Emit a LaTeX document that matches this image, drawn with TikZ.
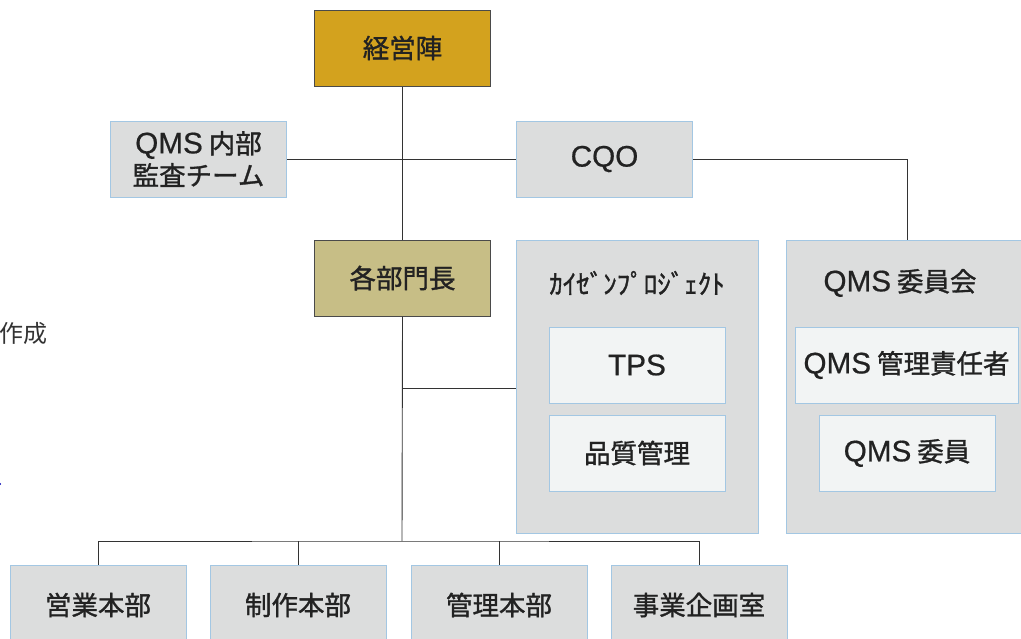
\documentclass[tikz,border=0pt]{standalone}
\usepackage{fontspec}
\newfontfamily\jp[FakeBold=1.2]{Noto Sans CJK JP}
\newfontfamily\jpl{Noto Sans CJK JP}
\newfontfamily\lat[FakeBold=0.6,Scale=1.12]{Liberation Sans}
\definecolor{gold}{HTML}{D3A21E}
\definecolor{khaki}{HTML}{C7BE86}
\definecolor{bgray}{HTML}{DCDDDD}
\definecolor{inner}{HTML}{F2F4F4}
\definecolor{bblue}{HTML}{A3C7E3}
\definecolor{dborder}{HTML}{4A4A4A}
\definecolor{lcol}{HTML}{333333}
\definecolor{tcol}{HTML}{222222}
\tikzset{
  box/.style={draw=bblue, fill=bgray, line width=1pt, inner sep=0pt,
    minimum width=176pt, minimum height=76pt, align=center, text=tcol,
    font=\jp\fontsize{26.5}{32}\selectfont},
  innerbox/.style={box, fill=inner},
  darkbox/.style={box, draw=dborder},
  grp/.style={draw=bblue, fill=bgray, line width=1pt, inner sep=0pt,
    minimum width=242pt, minimum height=293pt},
  grptitle/.style={text=tcol, inner sep=0pt, font=\jp\fontsize{26.5}{32}\selectfont},
  conn/.style={draw=lcol, line width=0.9pt},
}
\newcommand\qms{{\lat QMS}\ }
\begin{document}
\begin{tikzpicture}[x=1pt,y=-1pt]
\useasboundingbox (0,0) rectangle (1021,638);
\clip (0,0) rectangle (1021,638);
% left clipped remnants
\node[anchor=west, inner sep=0pt, text=lcol, font=\jpl\fontsize{24}{28}\selectfont] (frag) at (-1,333) {作成};
\fill[blue!70!black] (0,484) circle (1.2pt);
% nodes
\node[darkbox, fill=gold] (top) at (402.5,48) {経営陣};
\node[box] (audit) at (198.5,159) {\qms 内部\\監査チーム};
\node[box] (cqo) at (604.5,159) {\lat CQO};
\node[darkbox, fill=khaki] (heads) at (402.5,278) {各部門長};
\node[grp] (kaizen) at (637,386.5) {};
\node[grptitle, font=\jp\fontsize{27}{30}\selectfont] (ktitle) at (637,283) {ｶｲｾﾞﾝﾌﾟﾛｼﾞｪｸﾄ};
\node[innerbox] (tps) at (637,365) {\lat TPS};
\node[innerbox] (qc) at (637,453) {品質管理};
\node[grp] (qms) at (907,386.5) {};
\node[grptitle] (qtitle) at (900,283) {\qms 委員会};
\node[innerbox, minimum width=223pt] (mgr) at (906.5,365) {\qms 管理責任者};
\node[innerbox] (member) at (907,453) {\qms 委員};
\node[box, minimum height=80pt] (b1) at (98,605) {営業本部};
\node[box, minimum height=80pt] (b2) at (298,605) {制作本部};
\node[box, minimum height=80pt] (b3) at (499,605) {管理本部};
\node[box, minimum height=80pt] (b4) at (699,605) {事業企画室};
% connectors
\coordinate (bus) at (402,541);
\coordinate (br) at (402,388);
\draw[conn] (top.south) -- (heads.north);
\draw[conn] (audit.east) -- (cqo.west);
\draw[conn] (cqo.east) -| (qms.north);
\draw[conn] (heads.south) -- (bus);
\draw[conn] (br) -- (kaizen.west |- br);
\draw[conn] (b1.north) |- (bus) -| (b4.north);
\draw[conn] (b2.north) -- (b2.north |- bus);
\draw[conn] (b3.north) -- (b3.north |- bus);
\end{tikzpicture}
\end{document}
